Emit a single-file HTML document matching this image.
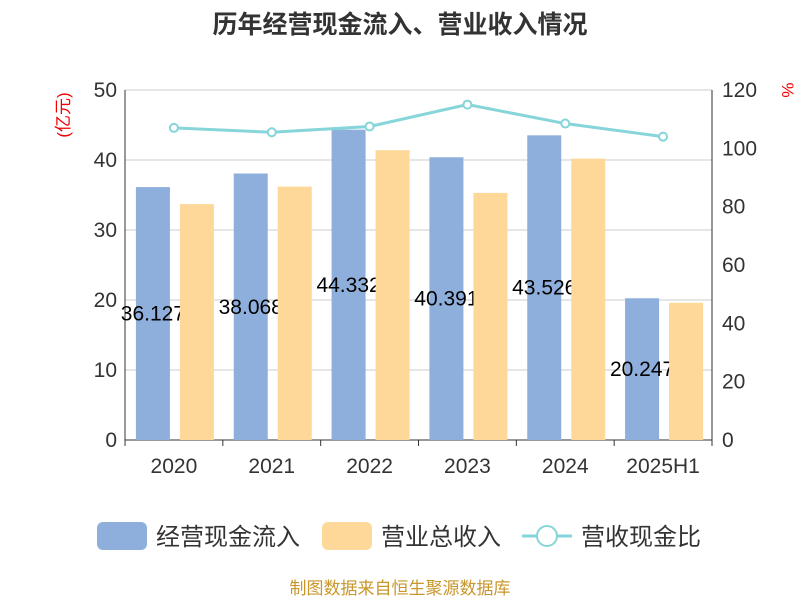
<!DOCTYPE html>
<html><head><meta charset="utf-8"><style>
body{margin:0;background:#fff;width:800px;height:600px;overflow:hidden;font-family:"Liberation Sans","Noto Sans CJK SC",sans-serif}
</style></head><body>
<svg id="c" width="800" height="600" xmlns="http://www.w3.org/2000/svg" font-family="Liberation Sans, Noto Sans CJK SC, sans-serif"></svg>
<script>
const categories=["2020","2021","2022","2023","2024","2025H1"];
const cashIn=[36.127,38.068,44.332,40.391,43.526,20.247];
const revenue=[33.7,36.2,41.4,35.3,40.2,19.6];
const ratio=[107,105.5,107.5,115,108.5,104];
const leftTicks=[0,10,20,30,40,50];
const rightTicks=[0,20,40,60,80,100,120];
const svg=document.getElementById('c');
const NS='http://www.w3.org/2000/svg';
function mk(t,a,p){const e=document.createElementNS(NS,t);for(const k in a)e.setAttribute(k,a[k]);(p||svg).appendChild(e);return e;}
const X0=125,X1=712,Y0=440,Y1=90;
const cw=(X1-X0)/categories.length;
const yL=v=>Y0-(v/50)*(Y0-Y1);
const yR=v=>Y0-(v/120)*(Y0-Y1);
const cx=i=>X0+cw*(i+0.5);
let t=mk('text',{x:400,y:33,'text-anchor':'middle','font-size':25,'font-weight':'bold',fill:'#333'});
t.textContent='历年经营现金流入、营业收入情况';
leftTicks.forEach(v=>{
 const g=mk('line',{x1:X0,x2:X1,y1:yL(v),y2:yL(v),stroke:v===0?'#333':'#ccc','stroke-width':1});
 
 const l=mk('text',{x:X0-8,y:yL(v)+7,'text-anchor':'end','font-size':21,fill:'#333'});
 l.textContent=v;
});
rightTicks.forEach(v=>{
 const l=mk('text',{x:X1+10,y:yR(v)+7,'font-size':21,fill:'#333'});
 l.textContent=v;
});
let a=mk('line',{x1:X0,x2:X0,y1:Y1,y2:Y0,stroke:'#333'});
a=mk('line',{x1:X1,x2:X1,y1:Y1,y2:Y0,stroke:'#333'});
for(let i=0;i<=categories.length;i++){const tk=mk('line',{x1:X0+cw*i,x2:X0+cw*i,y1:Y0,y2:Y0+6,stroke:'#333'});}
t=mk('text',{x:0,y:0,transform:'translate(69,115) rotate(-90)','text-anchor':'middle','font-size':17,fill:'#e00'});
t.textContent='(亿元)';
t=mk('text',{x:0,y:0,transform:'translate(782,90) rotate(90)','text-anchor':'middle','font-size':17,fill:'#e00'});
t.textContent='%';
categories.forEach((c,i)=>{
 const bx=cx(i)-38;
 const b=mk('rect',{x:bx,y:yL(cashIn[i]),width:34,height:Y0-yL(cashIn[i]),fill:'#8eaedb'});
 
});
categories.forEach((c,i)=>{
 const bx=cx(i)-38;
 const lb=mk('text',{x:bx+17,y:yL(cashIn[i]/2)+7,'text-anchor':'middle','font-size':21,fill:'#000'});
 lb.textContent=cashIn[i].toFixed(3);
});
categories.forEach((c,i)=>{
 const o=mk('rect',{x:cx(i)+6,y:yL(revenue[i]),width:34,height:Y0-yL(revenue[i]),fill:'#fed898'});
 
 const xl=mk('text',{x:cx(i),y:Y0+33,'text-anchor':'middle','font-size':21,fill:'#333'});
 xl.textContent=c;
});
const pl=mk('polyline',{points:ratio.map((v,i)=>cx(i)+','+yR(v)).join(' '),fill:'none',stroke:'#86d5da','stroke-width':3});

ratio.forEach((v,i)=>{const p=mk('circle',{cx:cx(i),cy:yR(v),r:4,fill:'#fff',stroke:'#86d5da','stroke-width':2});});
let g=mk('g',{});
mk('rect',{x:97,y:522,width:50,height:28,rx:6,fill:'#8eaedb'},g);
t=mk('text',{x:156,y:545,'font-size':24,fill:'#333'},g);t.textContent='经营现金流入';
g=mk('g',{});
mk('rect',{x:322,y:522,width:50,height:28,rx:6,fill:'#fed898'},g);
t=mk('text',{x:381,y:545,'font-size':24,fill:'#333'},g);t.textContent='营业总收入';
g=mk('g',{});
mk('line',{x1:522,x2:572,y1:536,y2:536,stroke:'#86d5da','stroke-width':3},g);
mk('circle',{cx:547,cy:536,r:10,fill:'#fff',stroke:'#86d5da','stroke-width':2},g);
t=mk('text',{x:581,y:545,'font-size':24,fill:'#333'},g);t.textContent='营收现金比';
t=mk('text',{x:400,y:594,'text-anchor':'middle','font-size':17,fill:'#c8962a'});
t.textContent='制图数据来自恒生聚源数据库';
</script>
</body></html>
